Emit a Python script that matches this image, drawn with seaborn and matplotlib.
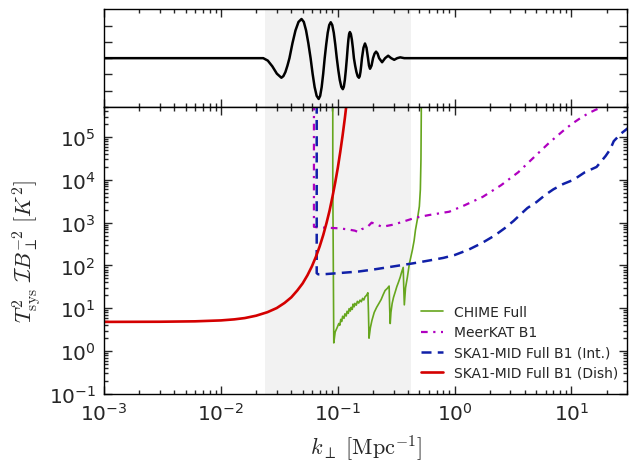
import matplotlib
matplotlib.use("Agg")
import matplotlib.pyplot as plt
import numpy as np
import pandas as pd
import seaborn as sns
from matplotlib.ticker import LogLocator, FixedLocator, NullFormatter, FuncFormatter

# top panel wiggle (k in Mpc^-1, arbitrary units)
wiggle_k = [0.001, 0.02302, 0.02517, 0.02752, 0.03009, 0.0329, 0.03423, 0.03562, 0.03707,
            0.03857, 0.04094, 0.04344, 0.04611, 0.04893, 0.05118, 0.05351, 0.05595,
            0.05851, 0.06089, 0.06334, 0.06592, 0.06859, 0.07066, 0.07279, 0.07499,
            0.07724, 0.0796, 0.082, 0.08449, 0.08703, 0.08966, 0.09237, 0.09515,
            0.09804, 0.101, 0.104, 0.1072, 0.1104, 0.1126, 0.1149, 0.1172,
            0.1196, 0.1214, 0.1232, 0.125, 0.1269, 0.1294, 0.132, 0.1347,
            0.1374, 0.1408, 0.1444, 0.148, 0.1517, 0.154, 0.1563, 0.1586,
            0.161, 0.1659, 0.1709, 0.1761, 0.1814, 0.185, 0.1887, 0.1944, 0.2003,
            0.2064, 0.2126, 0.2191, 0.2257, 0.2394, 0.2542, 0.2698, 0.2863, 0.304, 0.3226,
            0.3424, 0.3707, 30.0]
wiggle_v = [0, 0, -0.15, -0.5, -0.95, -1.2, -1.1, -0.85, -0.46,
            0, 0.92, 1.7, 2.22, 2.4, 2.22, 1.7, 0.92,
            0, -0.96, -1.77, -2.31, -2.5, -2.31, -1.77, -0.96,
            0, 0.84, 1.56, 2.03, 2.2, 2.03, 1.56, 0.84,
            0, -0.73, -1.34, -1.76, -1.9, -1.76, -1.34, -0.73,
            0, 0.61, 1.13, 1.48, 1.6, 1.48, 1.13, 0.61,
            0, -0.46, -0.85, -1.11, -1.2, -1.11, -0.85, -0.46,
            0, 0.64, 0.9, 0.64, 0, -0.46, -0.65, -0.46, 0,
            0.28, 0.4, 0.28, 0, -0.25, 0, 0.15, 0, -0.1, 0,
            0.05, 0, 0]

# CHIME Full
chime_k = [0.0906, 0.0906, 0.0924, 0.095, 0.099, 0.102, 0.104, 0.106, 0.108, 0.110, 0.113,
           0.115, 0.118, 0.12, 0.123, 0.125, 0.128, 0.13, 0.133, 0.135, 0.138, 0.14, 0.144,
           0.147, 0.151, 0.155, 0.159, 0.163, 0.167, 0.171, 0.176, 0.181, 0.183, 0.185, 0.19,
           0.196, 0.205, 0.215, 0.225, 0.235, 0.245, 0.254, 0.265, 0.275, 0.278, 0.281, 0.285,
           0.292, 0.30, 0.31, 0.32, 0.33, 0.342, 0.352, 0.363, 0.367, 0.371, 0.38, 0.394,
           0.41, 0.435, 0.45, 0.462, 0.48, 0.499, 0.509, 0.515, 0.519]
chime_v = [6e5, 1e4, 1.55, 2.8, 3.6, 4.4, 4.0, 5.5, 4.9, 6.5, 5.8,
           7.4, 6.6, 8.5, 7.6, 9.8, 8.6, 10.5, 9.4, 12.5, 10.8, 13, 11.8,
           14.5, 13.2, 15.5, 14.2, 17, 15.6, 18.5, 20, 23, 8, 2.0, 3.5,
           5.2, 8, 10.5, 13, 16, 21, 26, 29, 33, 10, 4.4, 8,
           13, 18, 24, 32, 40, 53, 70, 90, 30, 12, 30, 53,
           110, 230, 380, 670, 1200, 2400, 6000, 30000, 6e5]

# MeerKAT B1
meerkat_k = [0.0625, 0.0625, 0.066, 0.08, 0.1, 0.12, 0.14, 0.15, 0.16, 0.18, 0.195, 0.24,
             0.3, 0.34, 0.4, 0.46, 0.6, 0.9, 1.2, 1.74, 2.5, 3.5, 5.0, 6.5, 8.5, 10.0,
             12.0, 14.0, 16.0, 17.0, 18.0]
meerkat_v = [6e5, 800, 780, 760, 740, 700, 650, 600, 700, 800, 1000, 800,
             900, 1000, 1150, 1300, 1500, 1800, 2500, 4000, 7500, 15000, 38000, 75000, 1.4e5, 2e5,
             2.8e5, 3.6e5, 4.3e5, 4.6e5, 3.8e5]

# SKA1-MID Full B1 (Int.)
ska_int_k = [0.066, 0.066, 0.068, 0.08, 0.1, 0.15, 0.2, 0.3, 0.44, 0.6, 0.8, 1.0, 1.3, 1.7,
             2.2, 2.7, 3.2, 3.7, 4.2, 5.0, 6.0, 7.0, 8.5, 10.4, 13.0, 16.4, 19.6, 21.5, 23.0,
             26.5, 32.0]
ska_int_v = [6e5, 66, 62, 63, 66, 72, 80, 95, 112, 130, 150, 175, 230, 330,
             500, 750, 1100, 1600, 2200, 3000, 4500, 6000, 8000, 10000, 15000, 20000, 36000, 52000, 80000,
             1.2e5, 1.8e5]

# SKA1-MID Full B1 (Dish)
ska_dish_k = [0.001, 0.003, 0.006, 0.01, 0.013, 0.016, 0.02, 0.025, 0.03, 0.035, 0.04, 0.045,
              0.05, 0.055, 0.06, 0.065, 0.07, 0.075, 0.08, 0.085, 0.09, 0.095, 0.1, 0.105,
              0.11, 0.115, 0.12]
ska_dish_v = [4.8, 4.84, 4.95, 5.2, 5.5, 5.9, 6.7, 8.1, 10.1, 13.3, 18, 26,
              38, 59, 95, 160, 280, 510, 970, 1900, 4000, 8600, 19000, 45000,
              110000, 280000, 750000]

series = [
    ("CHIME Full", chime_k, chime_v, "#66a61e", "-", 1.2),
    ("MeerKAT B1", meerkat_k, meerkat_v, "#b000c0", (0, (3, 2.5, 1, 2.5)), 1.6),
    ("SKA1-MID Full B1 (Int.)", ska_int_k, ska_int_v, "#1020a8", (0, (4, 2.5)), 1.8),
    ("SKA1-MID Full B1 (Dish)", ska_dish_k, ska_dish_v, "#d40000", "-", 1.9),
]

band = (0.024, 0.42)

sns.set_style("ticks")
plt.rcParams["mathtext.fontset"] = "cm"
plt.rcParams["font.family"] = ["DejaVu Sans"]

fig = plt.figure(figsize=(6.31, 4.64), dpi=100)
ax_top = fig.add_axes([0.165, 0.767, 0.829, 0.211])
ax = fig.add_axes([0.165, 0.149, 0.829, 0.618])

for a in (ax_top, ax):
    a.axvspan(band[0], band[1], color="#f2f2f2", lw=0, zorder=0)

top_df = pd.DataFrame({"k": wiggle_k, "v": wiggle_v})
sns.lineplot(data=top_df, x="k", y="v", ax=ax_top, color="black", lw=1.8,
             estimator=None, sort=False)

for name, k, v, col, ls, lw in series:
    df = pd.DataFrame({"k": k, "v": v})
    sns.lineplot(data=df, x="k", y="v", ax=ax, color=col, lw=lw, linestyle=ls,
                 estimator=None, sort=False, label=name)

for a in (ax_top, ax):
    a.set_xscale("log")
    a.set_xlim(1e-3, 30)
    a.xaxis.set_major_locator(LogLocator(base=10, numticks=20))
    a.xaxis.set_minor_locator(LogLocator(base=10, subs=np.arange(2, 10), numticks=20))
    a.tick_params(which="both", direction="in", top=True, right=True, width=1.0)
    a.tick_params(which="major", length=6)
    a.tick_params(which="minor", length=3)
    for s in a.spines.values():
        s.set_linewidth(1.0)
        s.set_color("black")
    a.set_xlabel("")
    a.set_ylabel("")

ax_top.set_ylim(-3, 3)
ax_top.yaxis.set_major_locator(FixedLocator([-2, -1, 0, 1, 2]))
ax_top.xaxis.set_major_formatter(NullFormatter())
ax_top.xaxis.set_minor_formatter(NullFormatter())
ax_top.yaxis.set_major_formatter(NullFormatter())

ax.set_yscale("log")
ax.set_ylim(0.1, 5e5)
ax.yaxis.set_major_locator(LogLocator(base=10, numticks=20))
ax.yaxis.set_minor_locator(LogLocator(base=10, subs=np.arange(2, 10), numticks=20))
fmt = FuncFormatter(lambda x, p: r"$\mathregular{10^{%d}}$" % round(np.log10(x)))
ax.xaxis.set_major_formatter(fmt)
ax.yaxis.set_major_formatter(fmt)
ax.xaxis.set_minor_formatter(NullFormatter())
ax.yaxis.set_minor_formatter(NullFormatter())
ax.tick_params(which="major", labelsize=14.5, pad=6)

ax.set_xlabel(r"$k_\perp\ [\rm Mpc^{-1}]$", fontsize=16, labelpad=6)
ax.set_ylabel(r"$T_{\rm sys}^2\ \mathcal{I}B_\perp^{-2}\ [K^2]$", fontsize=16, labelpad=4)

ax.legend(loc="lower right", bbox_to_anchor=(1.01, 0.0), frameon=False, fontsize=10,
          handlelength=1.6, labelspacing=0.45, borderaxespad=0.6)

fig.savefig("out.png", dpi=100)
